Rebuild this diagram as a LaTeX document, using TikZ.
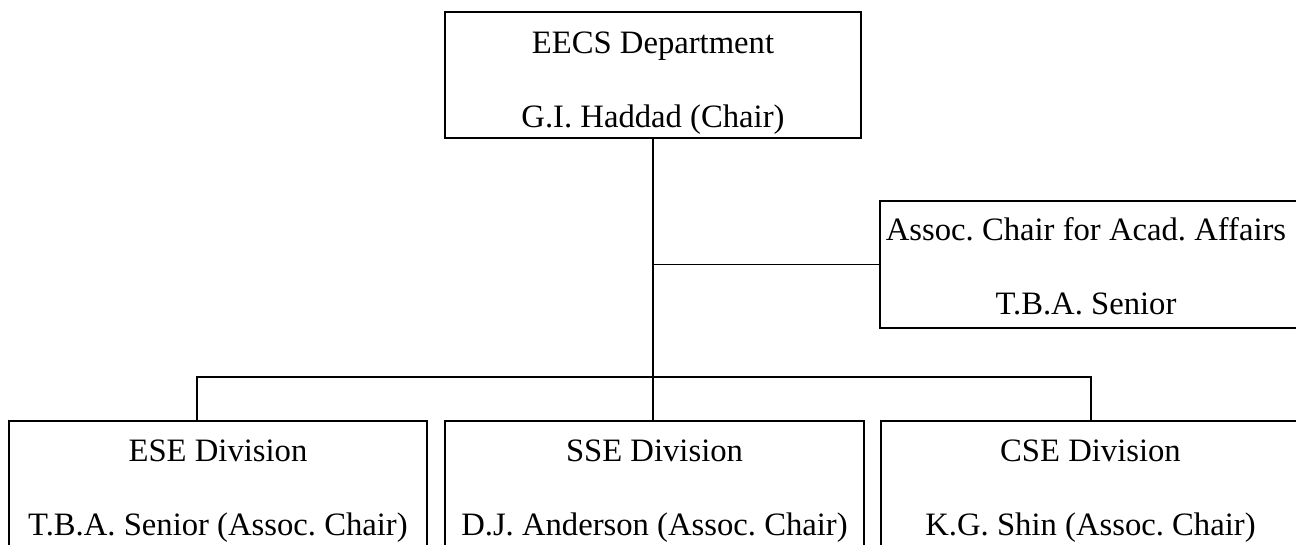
\documentclass[tikz,border=0pt]{standalone}
\usepackage{fontspec}
\setmainfont{Liberation Serif}
\frenchspacing
\begin{document}
\begin{tikzpicture}[x=0.75pt,y=-0.75pt,
  box/.style={draw,line width=1.5pt,minimum width=314pt,minimum height=95pt,inner sep=0pt},
  txt/.style={anchor=base,inner sep=0pt,font=\fontsize{24.5}{29}\selectfont},
  conn/.style={line width=1.4pt}]
\useasboundingbox (0,0) rectangle (1296,544);
\clip (0,0) rectangle (1296,544);

% boxes
\node[box,minimum width=312pt] (dept) at (653,75) {};
\node[box] (acad) at (1089,264.5) {};
\node[box,minimum height=120pt] (ese) at (218,501) {};
\node[box,minimum height=120pt] (sse) at (654.5,501) {};
\node[box,minimum height=120pt] (cse) at (1090.5,501) {};

% texts
\node[txt] (dept1) at (653,53) {EECS Department};
\node[txt] (dept2) at (653,127) {G.I. Haddad (Chair)};
\node[txt] (acad1) at (1086,240) {Assoc. Chair for Acad. Affairs};
\node[txt] (acad2) at (1086,314) {T.B.A. Senior};
\node[txt] (ese1) at (218,461) {ESE Division};
\node[txt] (ese2) at (218,535) {T.B.A. Senior (Assoc. Chair)};
\node[txt] (sse1) at (654.5,461) {SSE Division};
\node[txt] (sse2) at (654.5,535) {D.J. Anderson (Assoc. Chair)};
\node[txt] (cse1) at (1090.5,461) {CSE Division};
\node[txt] (cse2) at (1090.5,535) {K.G. Shin (Assoc. Chair)};

% lines
\coordinate (barl) at (197,377);
\coordinate (barr) at (1091,377);
\draw[conn] (dept.south) -- (dept.south |- sse.north);
\draw[conn] (dept.south |- acad.west) -- (acad.west);
\draw[conn] (barl |- ese.north) -- (barl) -- (barr) -- (barr |- cse.north);
\end{tikzpicture}
\end{document}
